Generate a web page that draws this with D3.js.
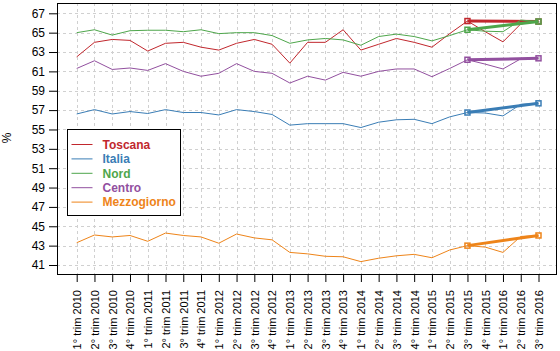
<!DOCTYPE html>
<html>
<head>
<meta charset="utf-8">
<script src="https://cdn.jsdelivr.net/npm/d3@7"></script>
<style>
  body { margin: 0; background: #fff; }
  svg { display: block; font-family: "Liberation Sans", Arial, sans-serif; }
</style>
</head>
<body>
<div id="chartContainer"></div>
<script>
var quarters = ["1° trim 2010", "2° trim 2010", "3° trim 2010", "4° trim 2010",
    "1° trim 2011", "2° trim 2011", "3° trim 2011", "4° trim 2011",
    "1° trim 2012", "2° trim 2012", "3° trim 2012", "4° trim 2012",
    "1° trim 2013", "2° trim 2013", "3° trim 2013", "4° trim 2013",
    "1° trim 2014", "2° trim 2014", "3° trim 2014", "4° trim 2014",
    "1° trim 2015", "2° trim 2015", "3° trim 2015", "4° trim 2015",
    "1° trim 2016", "2° trim 2016", "3° trim 2016"];

var toscana = [62.5, 64.0, 64.3, 64.2, 63.1, 63.9, 64.0, 63.5, 63.2, 63.9, 64.3, 63.8, 61.85,
    64.0, 64.0, 65.3, 63.2, 63.8, 64.4, 64.0, 63.5, 64.9, 66.2, 65.1, 64.05, 65.9, 66.15];
var italia = [56.6, 57.05, 56.6, 56.85, 56.65, 57.05, 56.75, 56.75, 56.5, 57.05, 56.85, 56.55, 55.45,
    55.6, 55.6, 55.6, 55.2, 55.75, 56.0, 56.05, 55.6, 56.3, 56.75, 56.7, 56.4, 57.6, 57.7];
var nord = [65.0, 65.3, 64.75, 65.2, 65.25, 65.25, 65.1, 65.3, 64.9, 65.0, 65.0, 64.7, 63.9,
    64.25, 64.4, 64.25, 63.7, 64.6, 64.85, 64.6, 64.15, 64.7, 65.3, 65.15, 65.1, 66.3, 66.15];
var centro = [61.3, 62.1, 61.2, 61.35, 61.1, 61.8, 61.0, 60.5, 60.8, 61.8, 61.0, 60.8, 59.8,
    60.5, 60.1, 60.9, 60.5, 61.0, 61.25, 61.25, 60.45, 61.3, 62.2, 61.75, 61.25, 62.3, 62.35];
var mezzogiorno = [43.3, 44.1, 43.9, 44.05, 43.45, 44.3, 44.05, 43.9, 43.25, 44.2, 43.8, 43.6, 42.3,
    42.15, 41.9, 41.85, 41.35, 41.7, 41.95, 42.1, 41.75, 42.55, 43.0, 42.85, 42.3, 43.95, 44.05];

var seriesNames = ["Toscana", "Italia", "Nord", "Centro", "Mezzogiorno"];
var seriesColors = ["#c1272d", "#3a7db5", "#4ea64b", "#92509f", "#ee8419"];
// year-on-year comparison: 3° trim 2015 -> 3° trim 2016
var compareIdx = [22, 26];
var yTicks = [41, 43, 45, 47, 49, 51, 53, 55, 57, 59, 61, 63, 65, 67];

function init() {
    var ww = 560, h = 351;
    var left = 57, right = 556, top = 3, bottom = 274;

    var svg = d3.select("#chartContainer").append("svg")
        .attr("width", ww)
        .attr("height", h);

    var x = d3.scaleLinear().domain([0, quarters.length - 1]).range([76.7, 538.5]);
    var y = d3.scaleLinear().domain([41, 67]).range([265, 13.3]);

    var allSeries = [toscana, italia, nord, centro, mezzogiorno];

    // grid
    svg.append("g").selectAll("line.vg")
        .data(quarters)
        .enter().append("line")
        .attr("x1", function(d, i) { return Math.round(x(i)) + 0.5; })
        .attr("x2", function(d, i) { return Math.round(x(i)) + 0.5; })
        .attr("y1", top).attr("y2", bottom)
        .attr("stroke", "#d0d0d0").attr("stroke-dasharray", "3,3");
    svg.append("g").selectAll("line.hg")
        .data(yTicks)
        .enter().append("line")
        .attr("x1", left).attr("x2", right)
        .attr("y1", function(d) { return Math.round(y(d)) + 0.5; })
        .attr("y2", function(d) { return Math.round(y(d)) + 0.5; })
        .attr("stroke", "#d0d0d0").attr("stroke-dasharray", "3,3");

    // y axis
    var yAxis = svg.append("g")
        .attr("transform", "translate(" + left + ",0)")
        .call(d3.axisLeft(y).tickValues(yTicks).tickSize(8).tickPadding(4));
    yAxis.select(".domain").remove();
    yAxis.selectAll("text").attr("font-size", 12).attr("fill", "#000")
        .attr("font-family", "Liberation Sans, Arial, sans-serif");

    // x axis
    var xAxis = svg.append("g")
        .attr("transform", "translate(0," + bottom + ")")
        .call(d3.axisBottom(x).tickValues(d3.range(quarters.length))
            .tickFormat(function(i) { return quarters[i]; }).tickSize(8));
    xAxis.select(".domain").remove();
    xAxis.selectAll("text")
        .attr("font-size", 11).attr("fill", "#000")
        .attr("font-family", "Liberation Sans, Arial, sans-serif")
        .attr("text-anchor", "end")
        .attr("transform", "rotate(-90)")
        .attr("x", -16).attr("y", 0).attr("dy", "0.35em");

    svg.append("text")
        .attr("transform", "translate(11,138) rotate(-90)")
        .attr("text-anchor", "middle")
        .attr("font-size", 12)
        .text("%");

    var line = d3.line()
        .x(function(d, i) { return x(i); })
        .y(function(d) { return y(d); });

    allSeries.forEach(function(s, k) {
        svg.append("path")
            .attr("d", line(s))
            .attr("fill", "none")
            .attr("stroke", seriesColors[k])
            .attr("stroke-width", 1);

        var pts = compareIdx.map(function(i) { return [x(i), y(s[i])]; });
        svg.append("path")
            .attr("d", d3.line()(pts))
            .attr("fill", "none")
            .attr("stroke", seriesColors[k])
            .attr("stroke-width", 3);
        svg.selectAll(null)
            .data(pts)
            .enter().append("rect")
            .attr("x", function(d) { return d[0] - 2.5; })
            .attr("y", function(d) { return d[1] - 2.5; })
            .attr("width", 5).attr("height", 5)
            .attr("fill", "none")
            .attr("stroke", seriesColors[k])
            .attr("stroke-width", 1.5);
    });

    // plot box
    svg.append("rect")
        .attr("x", left + 0.5).attr("y", top + 0.5)
        .attr("width", right - left).attr("height", bottom - top)
        .attr("fill", "none").attr("stroke", "#000");

    // legend
    var lg = svg.append("g").attr("transform", "translate(67.5,129.5)");
    lg.append("rect")
        .attr("width", 113).attr("height", 86)
        .attr("fill", "#fff").attr("stroke", "#000");
    var rows = lg.selectAll("g.row")
        .data(seriesNames)
        .enter().append("g")
        .attr("transform", function(d, i) { return "translate(0," + (15 + i * 14.4) + ")"; });
    rows.append("line")
        .attr("x1", 4).attr("x2", 25)
        .attr("stroke", function(d, i) { return seriesColors[i]; });
    rows.append("text")
        .attr("x", 35).attr("dy", "0.36em")
        .attr("font-size", 12).attr("font-weight", "bold")
        .attr("fill", function(d, i) { return seriesColors[i]; })
        .text(function(d) { return d; });
}

window.onload = init;
</script>
</body>
</html>
